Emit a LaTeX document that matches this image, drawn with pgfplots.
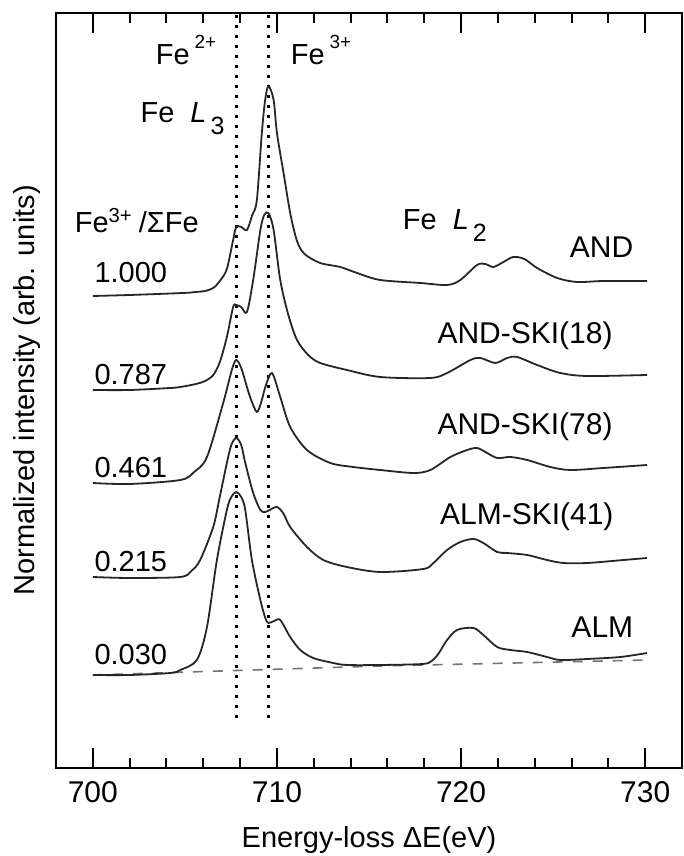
\documentclass[border=0pt]{standalone}
\usepackage{fontspec}
\setmainfont{Liberation Sans}
\usepackage{pgfplots}
\usepackage{pgfplotstable}
\pgfplotsset{compat=1.18}

\pgfplotstableread{
x y
700.0 472
702.0 473
704.9 475
705.6 476
706.1 477
706.54 480
706.9 487
707.28 499
707.62 528
707.79 541
708.06 541
708.37 538
708.66 553
708.91 568
709.18 635
709.36 668
709.54 682
709.82 668
710.0 635
710.36 595
710.72 555
711.09 527
711.5 514
712.35 505
713.44 501
714.35 495
715.61 488
717.79 485
719.24 483
719.96 488
720.87 503
721.32 504
721.76 501
722.3 506
722.84 511
723.44 509
724.13 500
725.22 490
726.3 486
727.73 487
730.1 487
}\tAND

\pgfplotstableread{
x y
700.0 378
702.0 378
704.2 380
704.75 381
705.6 384
706.1 387
706.54 393
706.9 406
707.28 431
707.62 461
707.79 463
708.06 461
708.37 456
708.71 488
709.1 538
709.31 553
709.54 555
709.82 538
710.18 488
710.62 453
711.09 428
711.7 413
712.35 405
713.8 398
715.61 391
718.33 390
719.24 395
720.51 408
721.05 410
721.86 405
722.5 410
723.04 411
724.13 403
725.39 395
726.85 392
730.1 393
}\tSKIa

\pgfplotstableread{
x y
700.0 285
702.0 284
704.75 288
705.5 296
706.2 311
707.08 365
707.55 398
707.79 408
708.06 400
708.37 381
708.6 368
708.91 356
709.15 366
709.37 381
709.73 395
710.18 371
710.72 341
711.63 318
712.9 305
714.15 301
715.61 298
717.41 295
718.33 298
719.42 311
720.33 318
720.87 320
721.32 316
721.96 310
722.68 311
723.59 308
724.85 301
725.94 298
727.73 300
730.1 303
}\tSKIb

\pgfplotstableread{
x y
700.0 191
702.0 190
704.75 191
705.35 197
705.83 208
706.54 241
706.86 268
707.28 305
707.52 323
707.79 330
708.06 323
708.28 305
708.71 275
709.1 258
709.37 256
709.7 259
710.0 261
710.34 255
710.72 241
711.63 221
712.52 208
713.8 201
715.61 196
717.95 199
718.5 205
719.24 218
719.96 226
720.67 229
721.21 225
721.96 216
722.5 215
723.59 213
724.67 208
725.56 205
726.85 205
728.83 208
730.1 210
}\tSKIc

\pgfplotstableread{
x y
700.0 93
702.0 93
704.2 95
704.75 98
705.65 108
706.2 141
706.74 208
707.28 258
707.52 271
707.79 276
708.06 271
708.28 258
708.64 208
709.1 168
709.37 150
709.54 145
709.85 147
710.18 148
710.72 131
711.27 118
711.97 110
713.06 105
713.8 103
715.61 103
717.9 104
718.4 107
718.8 115
719.2 127
719.78 138
720.67 140
721.21 133
721.96 121
722.68 118
723.59 116
724.67 111
725.39 108
726.85 109
728.65 111
730.1 115
}\tALM

\begin{document}
\begin{tikzpicture}
\useasboundingbox (-28pt,-44pt) rectangle (314pt,384pt);
\begin{axis}[
  at={(0,0)}, anchor=south west,
  scale only axis, width=313pt, height=377.5pt,
  xmin=698, xmax=732, ymin=0, ymax=755,
  axis line style={line width=1.4pt},
  xtick={700,710,720,730}, minor x tick num=4,
  ytick=\empty,
  tick align=inside, xtick pos=both,
  major tick length=10pt, minor tick length=5pt,
  every tick/.style={black, line width=1pt},
  xticklabel style={font=\fontsize{15}{17}\selectfont, yshift=-3pt},
  /pgf/number format/assume math mode=true,
  /pgf/number format/1000 sep={},
  every axis x label/.style={at={(axis description cs:0.5,-0.0954)},anchor=center},
  every axis y label/.style={at={(axis description cs:-0.046,0.5)},rotate=90,anchor=center},
  label style={font=\fontsize{14.5}{17}\selectfont},
  xlabel={Energy-loss ΔE(eV)},
  ylabel={Normalized intensity (arb. units)},
  clip=false,
]
\addplot[black!55, line width=0.8pt, dash pattern=on 5pt off 5pt] coordinates {(700,93) (715.6,102) (730.1,108)};
\addplot[black, line width=1.5pt, dash pattern=on 1.5pt off 3.5pt] coordinates {(707.8,50) (707.8,755)};
\addplot[black, line width=1.5pt, dash pattern=on 1.5pt off 3.5pt] coordinates {(709.55,50) (709.55,755)};
\addplot[black!85, line width=0.9pt, smooth] table[x=x,y=y] {\tAND};
\addplot[black!85, line width=0.9pt, smooth] table[x=x,y=y] {\tSKIa};
\addplot[black!85, line width=0.9pt, smooth] table[x=x,y=y] {\tSKIb};
\addplot[black!85, line width=0.9pt, smooth] table[x=x,y=y] {\tSKIc};
\addplot[black!85, line width=0.9pt, smooth] table[x=x,y=y] {\tALM};

\begin{scope}[every node/.style={font=\fontsize{14.5}{17}\selectfont, inner sep=0pt}]
\node[anchor=base west] at (axis cs:703.4,703) {Fe\hspace{2.5pt}\raisebox{8pt}{\fontsize{9.5}{10}\selectfont 2+}};
\node[anchor=base west] at (axis cs:710.73,703) {Fe\hspace{2.5pt}\raisebox{8pt}{\fontsize{9.5}{10}\selectfont 3+}};
\node[anchor=base west] at (axis cs:702.57,645) {Fe\hspace{8pt}\textit{L}\hspace{2pt}\raisebox{-6pt}{\fontsize{12.5}{13}\selectfont 3}};
\node[anchor=base west] at (axis cs:716.82,538) {Fe\hspace{8pt}\textit{L}\hspace{2pt}\raisebox{-6pt}{\fontsize{12.5}{13}\selectfont 2}};
\node[anchor=base west] at (axis cs:699.0,535) {Fe\textsuperscript{3+}\hspace{3pt}/ΣFe};
\node[anchor=base west] at (axis cs:700.07,485) {1.000};
\node[anchor=base west] at (axis cs:700.07,383) {0.787};
\node[anchor=base west] at (axis cs:700.07,290) {0.461};
\node[anchor=base west] at (axis cs:700.07,196) {0.215};
\node[anchor=base west] at (axis cs:700.07,103) {0.030};
\node[anchor=base east, font=\fontsize{15}{17}\selectfont] at (axis cs:729.37,510) {AND};
\node[anchor=base east, font=\fontsize{15}{17}\selectfont] at (axis cs:728.25,424) {AND-SKI(18)};
\node[anchor=base east, font=\fontsize{15}{17}\selectfont] at (axis cs:728.25,333) {AND-SKI(78)};
\node[anchor=base east, font=\fontsize{15}{17}\selectfont] at (axis cs:728.3,243) {ALM-SKI(41)};
\node[anchor=base east, font=\fontsize{15}{17}\selectfont] at (axis cs:729.37,130) {ALM};
\end{scope}
\end{axis}
\end{tikzpicture}
\end{document}
